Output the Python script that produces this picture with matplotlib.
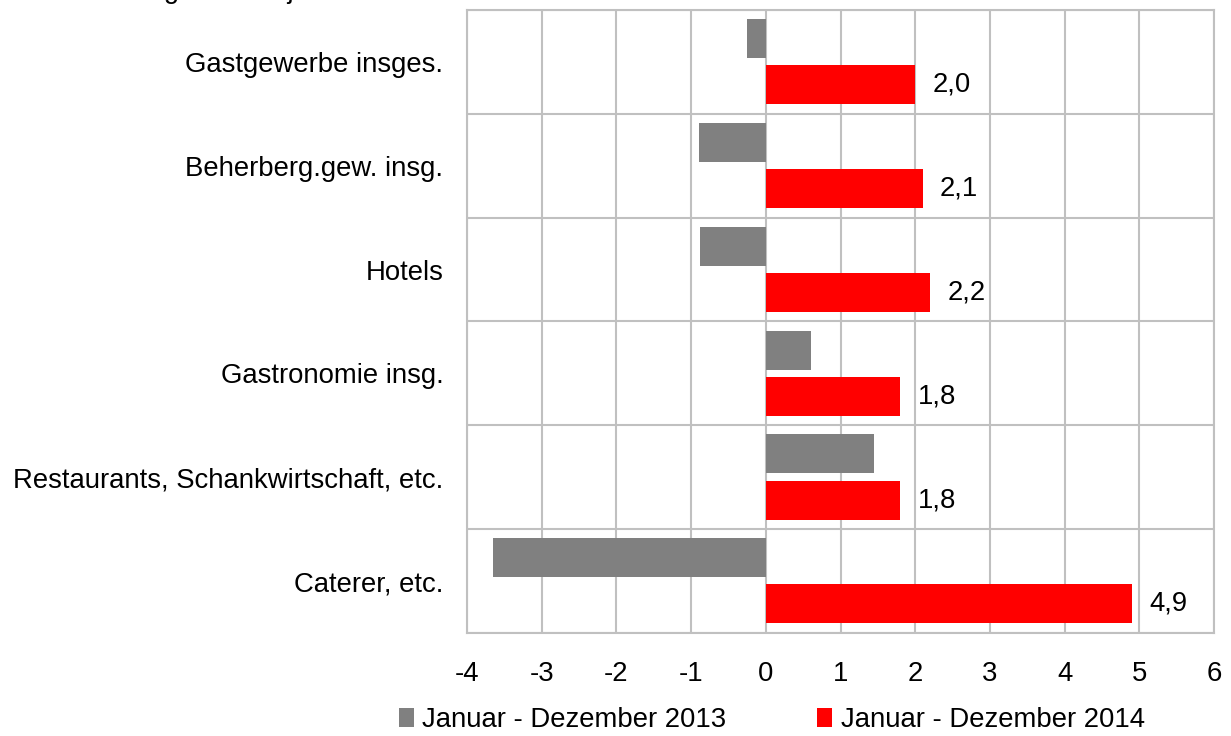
import matplotlib.pyplot as plt
import numpy as np

plt.rcParams['font.family'] = ['Liberation Sans', 'DejaVu Sans']

categories = ["Gastgewerbe insges.", "Beherberg.gew. insg.", "Hotels",
              "Gastronomie insg.", "Restaurants, Schankwirtschaft, etc.", "Caterer, etc."]
werte_2013 = [-0.25, -0.9, -0.88, 0.6, 1.45, -3.65]
werte_2014 = [2.0, 2.1, 2.2, 1.8, 1.8, 4.9]
labels_2014 = ["2,0", "2,1", "2,2", "1,8", "1,8", "4,9"]
series = ["Januar - Dezember 2013", "Januar - Dezember 2014"]

grid_col = "#c0c0c0"
fs = 19.8
fig = plt.figure(figsize=(12.31, 7.36), dpi=100)
ax = fig.add_axes([0.3794, 0.14, 0.6068, 0.8464])

y = np.arange(len(categories))
h = 0.375
ax.barh(y - 0.225, werte_2013, height=h, color="#808080", label=series[0], zorder=3)
ax.barh(y + 0.22, werte_2014, height=h, color="#ff0000", label=series[1], zorder=3)

for yi, v, t in zip(y, werte_2014, labels_2014):
    ax.text(v + 0.23, yi + 0.22, t, va="center", ha="left", fontsize=fs)

ax.set_xlim(-4, 6)
ax.set_ylim(len(categories) - 0.5, -0.5)
ax.set_xticks(np.arange(-4, 7, 1))
ax.set_xticklabels([str(i) for i in range(-4, 7)], fontsize=fs)
ax.set_yticks(y)
ax.set_yticklabels(categories, fontsize=fs)
ax.set_yticks(np.arange(-0.5, len(categories), 1), minor=True)
ax.tick_params(axis="both", which="both", length=0)
ax.tick_params(axis="x", pad=20)
ax.tick_params(axis="y", pad=17)
ax.grid(axis="x", color=grid_col, linewidth=1.5, zorder=0)
ax.grid(axis="y", which="minor", color=grid_col, linewidth=1.5, zorder=0)
for s in ax.spines.values():
    s.set_color(grid_col)
    s.set_linewidth(1.5)

fig.legend(loc="lower center", bbox_to_anchor=(0.627, -0.03), ncol=2, frameon=False,
           fontsize=fs, handlelength=0.55, handleheight=0.7, handletextpad=0.3,
           columnspacing=3.3)

fig.text(22 / 1231, 1 + 2 / 736, "Veränderung zum Vorjahr in %", fontsize=fs,
         va="baseline", ha="left")

fig.savefig("out.png", dpi=100)
